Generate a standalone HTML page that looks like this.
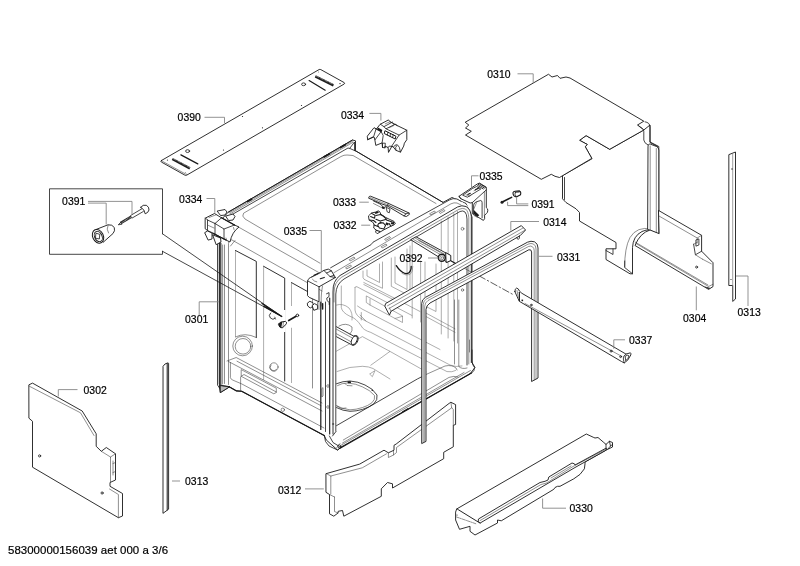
<!DOCTYPE html>
<html><head><meta charset="utf-8">
<style>
html,body{margin:0;padding:0;background:#fff;}
svg{display:block;will-change:transform;filter:grayscale(1);font-family:"Liberation Sans",sans-serif;}
.p{fill:#fff;stroke:#181818;stroke-width:0.9;stroke-linejoin:round;stroke-linecap:round;}
.l{fill:none;stroke:#181818;stroke-width:0.8;stroke-linejoin:round;stroke-linecap:round;}
.t{fill:none;stroke:#333;stroke-width:0.55;stroke-linejoin:round;stroke-linecap:round;}
.w{fill:none;stroke:#6a6a6a;stroke-width:0.55;stroke-linejoin:round;stroke-linecap:round;}
.g{fill:none;stroke:#808080;stroke-width:0.85;}
.k{fill:#1c1c1c;stroke:none;}
text{font-size:10.4px;fill:#000;stroke:#000;stroke-width:0.2;letter-spacing:0.04px;}
</style></head><body>
<svg width="800" height="566" viewBox="0 0 800 566">
<rect width="800" height="566" fill="#fff"/>
<!-- 10_strip0390.svg -->
<g>
<path class="p" d="M161.3 160.6L319 69.6Q319.9 69.1 320.8 69.6L344.2 82.6Q345 83.3 344.2 84L186.8 175.1Q185.8 175.7 184.8 175.1L161.3 162Q160.4 161.3 161.3 160.6Z"/>
<path class="t" d="M162.5 161.3L185.5 174L187 174.3"/>
<g stroke="#1c1c1c" stroke-width="2.4" fill="none">
<path d="M315.3 76.4L333.5 85.4"/>
<path d="M172.3 159L189.9 168.4"/>
</g>
<g stroke="#fff" stroke-width="1" stroke-dasharray="0.45 1" fill="none"><path d="M316 76L334 84.9M173 158.6L190.5 168"/></g>
<path class="l" style="stroke-width:1.2" d="M309.1 80.6L325.2 90.2"/>
<path class="l" style="stroke-width:1.2" d="M180.9 154.9L197.8 163.9"/>
<ellipse class="l" cx="303.6" cy="84.3" rx="2" ry="1.4"/>
<ellipse class="l" cx="187.6" cy="151.1" rx="2" ry="1.4"/>
<circle class="k" cx="242.5" cy="116.5" r="0.6"/>
<circle class="k" cx="301.5" cy="105.5" r="0.6"/>
<circle class="k" cx="262.5" cy="127.8" r="0.6"/>
<circle class="k" cx="223.5" cy="150" r="0.6"/>
<circle class="k" cx="167.4" cy="160.1" r="0.55"/>
<circle class="k" cx="340" cy="83.6" r="0.7"/>
<circle class="k" cx="318.5" cy="72" r="0.4"/>
<circle class="k" cx="185.2" cy="172.5" r="0.4"/>
</g>

<!-- 12_p0310.svg -->
<g>
<!-- 0304 back sheet -->
<path class="p" d="M562.5 176V198.8L566 202.5L576 208.8L579.5 212.5V221L616 242.5V248.8H606V259.5L630 273.8H632.5V247.5Q633 236 642 231.5Q646 229.5 650 230L658.8 233.5V146.5L650 142V125L643.8 130L609.7 149.3L586.1 135.6L579.6 140.3L587.2 144.4L585.3 146.8L591.8 158.4Z"/>
<path class="l" d="M564.5 177.5V199.5"/>
<path class="l" d="M606 250.5L613 254.5V249"/>
<!-- arch outer -->
<path class="t" d="M624.7 267Q624.5 248 630 237.5Q637 226 651 229"/>
<path class="l" d="M624.7 261V267.5L632.5 273.8"/>
<!-- column -->
<path class="p" d="M648 146.5Q648 143.5 650.5 144.2L656.5 146.5Q658.8 147.5 658.8 150V234L648 229.5Z"/>
<path class="t" d="M650.2 146V230.3"/>
<path class="t" d="M656.3 148.5V232.5"/>
<path class="l" d="M637.5 125L642.5 128.5Q643.8 129.5 643.8 131.5V140Q644 143 648 145"/>
<path class="l" d="M645 121.8Q650 122.5 650 127V142.5L657.5 146.5"/>
<!-- rail -->
<path class="p" d="M658.8 210.6L701.6 235.3V251.2L713 262.7V286.6L708.6 289.4L635 245.5Q640 233 650 230L658.8 233.5Z"/>
<path class="t" d="M658.8 215.9L697.2 238L701.6 235.3"/>
<path class="t" d="M697.2 238V243"/>
<path class="l" d="M693.6 244.2L695.4 254.8L701.6 251.2"/>
<path class="t" d="M693.6 244.2L697 242.5"/>
<path class="l" d="M696.3 239.8L698.9 238.9V245L696.3 246Z"/>
<path class="t" d="M702.5 259.2L711.3 263.8M695.4 254.8L702.5 259.2"/>
<path class="t" d="M636 243.5L708.5 286.5L713 284.3"/>
<path class="t" d="M635 242L708 285"/>
<path class="k" d="M704 286.2L708.6 289L710.5 288Z"/>
<circle class="l" cx="696.6" cy="267.1" r="1"/>
<!-- 0310 top sheet -->
<path class="p" d="M548.8 74.5L552 77L557.5 75.5L560 78.3L566 77L570 78L643.8 121.2L637.5 125L643.8 130L609.7 149.3L586.1 135.6L579.6 140.3L587.2 144.4L585.3 146.8L591.8 158.4L559.5 177.5L555 176.3L551.3 174.3L541.3 179.3L465.5 135L471.3 131.3L465.5 128L468.8 125L465.5 122.5Z"/>
</g>

<!-- 14_strips0313.svg -->
<g>
<path class="p" d="M729.2 154.5L735.5 152V299L732.7 301.4V285.5H729.2Z"/>
<path d="M732.7 154V301" stroke="#777" stroke-width="0.7" fill="none"/>
<circle class="k" cx="732" cy="169" r="0.7"/>
<circle class="k" cx="731" cy="279.5" r="0.6"/>
<path class="p" d="M163.3 366L165 364L168 362.8L168.6 363.3V509.2L163.3 513.1Z"/>
<path class="l" style="stroke-width:1" d="M167.2 363.5V510"/>
</g>

<!-- 16_p0302.svg -->
<g>
<path class="p" d="M29.2 384.7L32.5 383.1L82.2 411L96.2 433.8V446.3L101.3 451.3L106.3 447.5L115.5 453.8V480L110 482.5V486.3L122.5 493.5V516L118.4 517.7L32.5 467.2V421.3L29.2 418.4Z"/>
<path class="t" d="M29.5 386.3L80.5 412.8L94 435.5"/>
<path class="t" d="M101.3 451.3L110.5 457V482"/>
<path class="t" d="M110.5 457L115.5 453.8"/>
<path class="t" d="M118.4 517.7V494.5L109.5 489"/>
<path class="t" d="M113 461V475M115.5 462.5L113 463.5M115.5 471.5L113 472.5"/>
<circle class="l" cx="39.6" cy="455.9" r="1.1"/>
<circle class="l" cx="102.1" cy="493" r="1.1"/>
</g>

<!-- 18_p0312.svg -->
<g>
<path class="p" d="M326.3 473.6L359.7 464.1L384 450.2L388.4 452.8L394 450.2V445.3L396.2 444L449.1 403.4L450.9 402.3L455.6 404.6V424.5L453.3 425.3V446.8L443.7 452.3V458.7L392.5 488V483.8L387.5 482.5L381.3 488.8V496.3L343.8 516.2L342.5 510.5L338.2 511.3L338 513L333.8 516.2L329.5 513.8V494.5L326.3 492.5Z"/>
<path class="t" d="M330.8 494V476L362.3 467.8L386.5 453.8"/>
<path class="t" d="M326.3 473.6L330.8 476"/>
<path class="t" d="M334.5 497V511.5L338 513"/>
<path class="t" d="M329.5 494.5L334.5 497"/>
<path class="t" d="M388.4 452.8V457.5L393.5 455V450.5"/>
<path class="t" d="M393.5 455L396.5 452.5V447.5L451.7 407.8L453.3 409.4V425.3"/>
<path class="t" d="M450.9 402.3L451.7 407.8"/>
</g>

<!-- 20_p0330.svg -->
<g>
<path class="p" d="M457 508.8L586.3 434L593.8 437.5L595 438L598 437.5L603.8 442.5L606 444.4L609.4 441.3L612.5 442.5V447L607.5 449.4L585 462V463.8L584.4 468.8L580 474.4L573.8 478.8L560 486.3H557.5L555 487.5L553.8 489.3L501.3 520.8L497.5 520V523L475 535L470 531.3V526.3L459.5 529.3L455.6 520V512.5Z"/>
<path class="l" style="stroke-width:0.95" d="M457 508.8L458.8 510L480 523.1"/>
<path class="t" style="stroke-dasharray:3 1 0.8 1" d="M456.5 517L476 523.8"/>
<circle class="k" cx="457" cy="515" r="0.6"/>
<!-- rail -->
<path class="p" d="M478.8 518.8L540 482.5L545 481.3L548 480L548.8 477L572 463L574.4 463.8L575 465L606.3 448V450L575 467.5L480 523.1L478.5 521.5Z"/>
<path class="t" d="M480 520.6L541 484.5L546 483.2L549 481.5L573 466.5L606.3 449"/>
<path class="t" d="M551 478L571 466"/>
<path class="l" d="M606 444.4V448M609.4 441.3L610.5 446L607.5 449.4M610.5 446L612.5 444.5"/>
</g>

<!-- 30_tub.svg -->
<g>
<!-- top face -->
<path class="p" d="M228.5 212L352.5 140L355.5 140.8V150.8L443 202.4L452 197.5L466 203.5L472 217V362.5L475 367.5L470 373.8L342.5 446.3L337.5 450L326.3 440L324.3 435.6L241.7 391.3L236.5 390.9L229.5 386.9L220.3 392.6L219.5 388V222Z"/>
<!-- rail lines top-left -->
<path class="l" d="M228.5 212L352.5 140"/>
<path class="t" d="M229.3 212.9L352.5 141.2"/>
<path class="t" d="M230.3 213.8L353 142.3"/>
<path class="l" d="M231.5 214.9L348 148L350 148.5L355.5 151"/>
<path class="l" d="M350 148L354.5 142V150.5"/>
<g stroke="#1c1c1c" stroke-width="1.8" fill="none"><path d="M247 201.8L252 198.9M323.5 157.3L330 153.5M340 147.8L346 144.3"/></g>
<!-- top emboss rounded rect -->
<path class="t" d="M320 263.2L245 219Q241.3 216 243.6 213.2L341 156.5Q344 154.8 347 155L353 155.5L436 203.5"/>
<path class="t" d="M237.5 226.5L327 277.2"/>
<!-- top right back edge -->
<path class="l" d="M355.6 150.8L443 202.4"/>
<!-- left face: rear vertical bundle -->
<path class="l" d="M217.5 232V385L219.5 388"/>
<path class="t" d="M219 240V384"/>
<path class="l" d="M220.8 243V384.5" style="stroke-width:1.1"/>
<path class="t" d="M222.6 245V384"/>
<path class="t" d="M224.5 245V383.5"/>
<!-- left face panel outline -->
<path class="t" d="M228.5 384.5V243.5Q228.7 238.3 232 240L322 291"/>
<path class="t" d="M230.5 246L235 240.5"/>
<!-- embossed rects -->
<path d="M235.5 337V250.5" stroke="#999" stroke-width="0.8" fill="none"/>
<path class="l" style="stroke-width:0.9" d="M235.5 250.5L256.3 261.4V337.5"/>
<path d="M263.6 380V266.3" stroke="#999" stroke-width="0.8" fill="none"/>
<path class="l" style="stroke-width:0.9" d="M263.6 266.3L284.7 278.1V381"/>
<path d="M291.5 383V282.6" stroke="#999" stroke-width="0.8" fill="none"/>
<path class="l" style="stroke-width:0.9" d="M291.5 282.6L312.5 294.3"/>
<path class="t" d="M312.5 294.3V388"/>
<path class="t" d="M235.5 337Q245 332 256.3 337.5"/>
<circle class="t" cx="242.6" cy="346" r="9.8"/>
<circle class="t" cx="243" cy="346.3" r="7.8"/>
<path class="l" d="M270.6 313A3.2 3.2 0 0 0 275.4 318.2"/>
<path class="t" d="M274.5 317L275.6 319.3"/>
<circle class="t" cx="273.9" cy="367" r="4.2"/>
<path class="t" d="M271 365A3.4 3.4 0 0 0 276.5 369.5"/>
<!-- lower band of left face -->
<path class="t" d="M227 361L236.2 357.5L322 403"/>
<path class="t" d="M237 361.2L321 405.7"/>
<path class="t" d="M228.5 361.5L322 411"/>
<path class="t" d="M230.4 362.6V377.7Q231 379.5 233 380.2L241.7 383.9L324 428"/>
<path class="t" d="M241.2 370V376.3L273.8 393.8L276.3 392.5V388.6Z"/>
<path class="t" d="M241.2 376.3L244 374.5L276.3 392"/>
<path class="t" d="M240.6 377V390.5"/>
<circle class="t" cx="282.8" cy="409.8" r="1.7"/>
<path class="l" style="stroke-width:1.15" d="M229.5 386.9L236.5 390.9L241.7 391.3L324.3 435.6"/>
<path class="p" style="fill:#bbb" d="M220.3 385.6V392.6L229.5 386.9Z"/>
<path class="l" d="M220.3 385.6L229.5 386.9"/>
</g>

<!-- 32_interior.svg -->
<g>
<!-- right interior wall verticals -->
<path class="w" d="M412.2 240V318"/>
<path class="w" d="M420.6 261V322"/>
<path class="w" d="M441.3 221V334"/>
<path class="w" d="M448.1 217V338"/>
<path class="w" d="M453.8 213.5V341"/>
<path class="w" d="M457.5 211.5V343"/>
<!-- embossed panels on right wall -->
<path class="w" d="M363 271V277.5Q363.5 279.5 366 280.3L382.5 288.3V262"/>
<path class="w" d="M367 270V276L379.5 282.5V264"/>
<path class="w" d="M391.3 258V286.3L410 296V246"/>
<path class="w" d="M395 257V283L407 289.5V249"/>
<path class="w" d="M425 262V306L436 311.5V264"/>
<!-- oblique bands -->
<path class="w" d="M355 287.5Q355.5 286 357 286.8L412 315.5"/>
<path class="w" d="M363.8 282.5L395 298.5M363.8 284.5L395 300.5"/>
<!-- horizontal slot -->
<path class="w" d="M366.3 296.3V302.5L370 305L402.5 322.5V316.3Z"/>
<path class="w" d="M370 305V299M395 318.5L402.5 316.3"/>
<path class="w" d="M361.3 312.5V320"/>
<path class="w" d="M425 312.5L455 328.8"/>
<path class="w" d="M425 316L455 332.3"/>
<path class="w" d="M398 300L420 311.5"/>
<!-- wall/floor transitions -->
<path class="w" d="M355 287.5V310Q355.5 316 363.8 320L450 365Q456 367.5 462 366"/>
<path class="w" d="M341.3 286V307.5Q342 312.5 350 316.3Q356 318 361.3 326Q363 330 370.8 332.4L447 371.6Q452 372.5 455.6 370.5"/>
<path class="w" d="M357.5 306L362 309L440 349.5"/>
<path class="w" d="M360 315L366 321"/>
<path class="w" d="M336 351.4L362.4 336.6L390 351.4L370.8 365.2"/>
<path class="w" d="M390 351.4L426 371.6"/>
<path class="w" d="M337 371.5Q350 366 362.5 366.3Q369 366.5 373 368.5L390 379"/>
<path class="w" d="M370 373.8L375 370.6L372.5 376.3Z"/>
<path class="w" d="M336.5 305Q343 303 349 308Q353 313 352 320"/>
<!-- sump ellipse -->
<path class="l" d="M336.2 383.8Q343 381 350 381Q358 381.5 365 385Q373 388.5 377 395Q378 400 373.8 403.8Q369 407.5 362.5 409.4Q356 411.3 350 411.3Q343 411 336.2 407.5"/>
<path class="t" d="M337.5 385.6Q342 383 347.5 383Q356 383.5 362.5 386.9Q370 390 374.5 395.5Q375.5 399.5 371.9 402.8Q368 405.8 362.5 407.5Q356 409.7 350 409.8Q343 409.3 336.2 405.6"/>
<path class="k" d="M347.5 381.3L350.8 381.2L351 383L347.8 383.2Z"/>
<circle class="k" cx="372.3" cy="390.2" r="0.8"/>
<path class="t" d="M345 383.5L347 385.5L352 385.8"/>
<path class="t" d="M337 406L341 408.5L346 408"/>
<!-- floor front lines -->
<path class="l" d="M335 426.5L417.5 378.9L421.7 376.8"/>
<path class="t" d="M426 374.5L445 366Q452 364.5 456 368L457 370"/>
<path class="t" d="M343.3 440L421.7 393.5M426 391L449 377.4Q454 375.5 458 377"/>
<!-- lower tube -->
<path class="p" d="M336 326.5L353.5 336Q358 334.5 358.2 338Q358 344 353 345.5L336 336.5Z"/>
<path class="t" d="M336 329L352 337.8M336 333.5L351.5 342"/>
<ellipse class="l" cx="354.3" cy="340.3" rx="2.6" ry="4.6" transform="rotate(22 354.3 340.3)"/>
<path class="t" d="M339 326Q346 322 352 327Q353 331 350 334"/>
<!-- hook -->
<path class="l" style="stroke-width:1.3" d="M396.3 265.6Q400 271.5 405 273.5Q409 274 410.3 271Q411.3 269 411.2 266.3"/>
<path class="w" d="M412.8 266.5Q413 272 410 274.5Q406 276 402 273.5"/>
</g>

<!-- 34_frame.svg -->
<g>
<!-- frame band fill (top rail) -->
<path class="p" d="M330.6 267.8L449.4 200Q453 197.8 457 199L463 202.5Q470 206 471.3 216.3V362.5L467.5 364V219Q467 211 462 209.5Q459 208.8 456 210.3L346.3 271.5Q337 277 336.2 290V432L332.3 436.5V290Q332 278 335.6 274Z" style="stroke:none"/>
<!-- top rail lines -->
<path class="l" d="M330.6 267.8L371 244.7L373 242.2L449.4 200Q453 197.8 457 199L461 201.3"/>
<path class="t" d="M333.8 272.8L451 203.8Q454 202.3 457 203L461 205"/>
<path class="l" style="stroke-width:0.9" d="M333 434V292Q332.6 281 340 275.5L457.5 207Q462 204.8 466 206.5Q470.6 209 471.3 216.3V362.5"/>
<path class="t" d="M334 302V292.5Q334 282.5 341.5 277.3L458.8 209.4Q462.5 207.6 465.5 209Q468.3 211 468.8 217.5V364"/>
<path class="l" d="M335.8 431V294Q336.1 284 344 279L460 211.5Q463 210.2 465 212Q466.8 214 467 219V365"/>
<!-- slots on top rail -->
<path class="t" d="M349.5 259.5L354 257L355 258.3L350.5 260.8ZM346 267.5L350.5 265L351.5 266.3L347 268.8Z"/>
<path class="t" d="M385 239L389.5 236.5L390.5 237.8L386 240.3ZM381.5 246.5L386 244L387 245.3L382.5 247.8Z"/>
<path class="t" d="M430 213.5L434.5 211L435.5 212.3L431 214.8ZM439.5 212L444 209.5L445 210.8L440.5 213.3Z"/>
<!-- left vertical front strip of side face -->
<path class="l" style="stroke-width:1.2" d="M320.8 302V429.5"/>
<path class="l" d="M325.5 302V431.5"/>
<path class="l" style="stroke-width:1.1" d="M329.7 298V434"/>
<path class="t" d="M323 388V396L321.8 397V389Z"/>
<path class="l" style="stroke-width:1.5" d="M322.6 303.8V309"/>
<!-- bottom-left corner -->
<path class="l" d="M324.3 435.6L325.5 441.5L329 446L337.5 450L342.5 446.3"/>
<path class="l" d="M329.4 436L333 442.5L339.5 446.5"/>
<path class="l" d="M336 431.5L332.5 436"/>
<circle class="l" cx="339.3" cy="446.3" r="1.5"/>
<path class="t" d="M336.5 448L340 443.5"/>
<!-- bottom front edge -->
<path class="l" style="stroke-width:1.2" d="M340.5 448L471.5 373"/>
<path class="t" d="M341 445.3L470.5 370.5"/>
<path class="t" d="M342.5 443L464 372.5"/>
<path class="k" d="M402 411.5L408 408L408.5 409L402.5 412.5Z"/>
<!-- bottom-right corner -->
<path class="l" d="M472 350V361Q472.3 365 474.5 367.5Q475 370.5 471.5 373.3"/>
<path class="t" d="M458.8 300V366.5Q462 369.5 467 368"/>
<path class="t" d="M454.5 300V364"/>
<circle class="t" cx="462.5" cy="228.8" r="1.4"/>
<circle class="t" cx="462.5" cy="290" r="1.2"/>
<path class="t" d="M469.5 340V352"/>
<!-- hinge bits on left frame -->
<path class="l" d="M326.5 293.8L329 292.6V296.5L326.8 298L327 300.5L329.2 302.5V304.5"/>
<circle class="t" cx="328" cy="386" r="1.3"/>
<circle class="t" cx="328" cy="407" r="1.3"/>
<circle class="t" cx="333" cy="424" r="0.7"/>
</g>

<!-- 40_rails.svg -->
<g>
<!-- 0392 slide -->
<path class="p" d="M411 239.5L416 236.8L450.5 255.5V260.5L447.5 262Z"/>
<path class="t" d="M413.5 239.5L444 256.5M415 238L446 255"/>
<path class="t" d="M419 240.5L440 252" style="stroke-width:1.2;stroke:#777"/>
<path class="p" d="M446 252.8L450.8 255.5V260.5L446.5 262.5Z"/>
<path class="l" style="stroke-width:1.2" d="M450.8 260.8L456 263.8"/>
<circle class="p" style="stroke-width:1.4" cx="441.8" cy="257.8" r="3.5"/>
<circle class="t" cx="441.8" cy="257.8" r="2"/>
<circle class="k" cx="441.8" cy="257.8" r="0.6"/>
<!-- dash-dot axis -->
<path class="t" d="M456 263.5L471 272" />
<path class="l" style="stroke-dasharray:7 2.5 1.5 2.5;stroke-width:0.7" d="M479 275.8L513 294.5"/>
<!-- 0314 bar -->
<path class="p" d="M386 303.3L521.3 225.6L525.6 230L520.3 235.5L391 311.3L389.5 315L387.8 312L385 306.5Z"/>
<path class="t" d="M387.5 305.8L523 228"/>
<path class="t" d="M389 308.5L524.5 230.5"/>
<path class="t" d="M391 311.3L389.5 308"/>
<path class="l" d="M516.8 237.5Q517 239.5 518.5 239.3Q519.8 238.8 519.5 236"/>
<!-- 0331 seal -->
<path class="p" d="M421.7 443.2V303.5Q421.8 299.5 425.5 297.3L527.5 242.2Q531 240.5 534.5 241.8Q538 243.5 538 248V378L531.6 381.5V252Q531.3 249 528.8 249.8L430 303Q426.2 305.5 426 309.5V441Z"/>
<path class="t" d="M423.2 442.3V304.5Q423.3 300.8 426.5 299L528 244.2Q531 242.8 533.5 244Q536 245.5 536 249V379"/>
<path class="t" d="M424.7 441.5V306.5Q424.8 302.5 428 300.5L528.5 246.5Q531 245.5 532.5 246.8Q534.2 248.2 534.2 250.5V380"/>
<!-- 0337 -->
<path class="p" d="M514.9 291.6Q514.8 288.5 516.6 288.1Q518.5 288.3 519.4 291L521.9 293.3L626 354.1L630.4 352.8Q631.3 353.5 630.8 355L627.7 360.2L624.2 362.9L621.5 361.5L519.3 301.3Q517 296.5 514.9 291.6Z"/>
<path class="l" style="stroke-width:1.1" d="M519.4 292.3V300.8"/>
<path class="t" d="M517 290.5L518.3 297.5"/>
<path class="t" d="M525 303.5L622 356.5"/>
<path class="l" d="M626 354.1Q623 355.5 623.3 359L624.2 362.9"/>
<path class="l" d="M625.5 356Q627.5 354.5 629 355.8Q628.5 358.5 626 360.5Z"/>
<rect class="k" x="521.5" y="299.6" width="1.6" height="1.6"/>
<circle class="l" cx="531.3" cy="305" r="0.8"/>
<circle class="l" cx="611.1" cy="351.1" r="1"/>
<circle class="l" cx="620.6" cy="356.7" r="0.9"/>
</g>

<!-- 42_small.svg -->
<g>
<!-- 0334 left bracket -->
<path class="p" d="M217.5 211L225 209.5L227 212L225 215L221 215.5Z"/>
<path class="p" d="M226 216L233 214L235 216.5L233 220L229 220.5Z"/>
<path class="p" d="M205 232.5L207.5 231L212 233V239L208.5 240Z"/>
<path class="p" d="M213 235L220.5 238L221 242L216.5 244.5Z"/>
<path class="p" d="M205.5 218L214.5 213.5L221.5 217.8L234.5 225L239 227Q232 232 230 242L224 239L215 234L207.5 230.5L205.5 229Z"/>
<path class="l" d="M205.5 218L207.5 220L215 223.5L221.5 217.8"/>
<path class="l" d="M215 223.5V234M207.5 220V230.5"/>
<path class="l" d="M215 223.5L224 229V239M224 229L234.5 225"/>
<path class="l" style="stroke-width:1.3" d="M221.5 217.8L234.5 225M213 233.5L226 240"/>
<path class="t" d="M209 217.5L216 214.8M208.5 225.5L214 228"/>
<path class="t" d="M233.5 227.5L234 229.5M226 238L226.5 240"/>
<!-- 0335 left bracket -->
<path class="p" d="M308.4 279.3Q309 278 310.5 277.5L320.8 272.2L323.9 270.4L328.3 269.1L331.4 270.8L334 275.3L335.4 277.5L319 286.8V301.8L309.3 297.4L307.5 295.6V281.5Z"/>
<path class="l" d="M307.8 281L319 286.8"/>
<path class="l" d="M323.9 270.4L326.5 273.1L330.1 276.6L334 275.3M326.5 273.1L331.4 270.8M330.1 276.6L335.4 277.5"/>
<path class="l" style="stroke-width:1.1" d="M314 275.2L318 273.5M320.3 278.8L324.3 277.4"/>
<path class="t" d="M312.4 279.3Q314 281.5 316.8 281.9M311 277.5L320.5 272.8"/>
<path class="t" d="M322.5 286Q321.3 292 321.2 298V306"/>
<path class="p" d="M307.6 303L309.8 301.3L312.9 302.7L313.3 306.2L310.2 308L308 306.2Z"/>
<path class="p" d="M312.4 305.4L314.6 303.6L317.7 305.4V308.9L314.2 310.2Z"/>
<path class="t" d="M317.5 302.5V309M319 302V309.5"/>
<!-- 0335 right bracket -->
<path class="p" d="M459.2 196.2L477.4 183.9L479.5 183.1L486.3 187.2V207.7Q488 208.5 487.8 210.8Q487.5 213 486.3 213.6L484.6 215.3V218.7L483.4 220.4L472.3 213.6V202.6L470.2 203L461 198.8Z"/>
<path class="l" d="M472.3 202.6L486.3 189.9M461 198.8L459.2 196.2"/>
<path class="l" d="M463 195L472.3 188.6L476.6 186.5L480.8 189L471 195L467.7 197Z"/>
<path class="t" d="M466 194.8L470 196.3L471 195M474 190.8L478.5 188.5"/>
<path class="l" style="stroke-width:1.1" d="M475.3 189.8L479 187.8M467.8 194.5L470.3 193.2"/>
<g stroke="#222" stroke-width="0.9" fill="none"><path d="M478 184.2L484.8 188.3M479.3 183.5L486 187.6M477.2 185.2L483.6 189.2"/></g>
<path class="l" d="M473.6 213.6V205.1Q474 202.5 476.6 201.7L480.8 200.5Q482.1 200.8 482.1 202.6V217.8"/>
<path class="t" d="M484.4 191.5V215.5M476.8 202L474 208.5"/>
<path class="k" d="M473.6 209.8L479.3 215.3L477.4 216.8L473.6 213.8Z"/>
<path class="t" d="M474 215.5L477.5 217.5"/>
<!-- 0334 top bracket -->
<path class="p" d="M380.4 124.2L388.5 119.9L389.9 121.7L397.3 125.6L406.8 130.2V139.7L404.4 143.2L403.7 146.1L400.5 152.1L395.9 150.3L393.4 147.1L392 146.1L388.5 152.4L388.1 147.5L385 146.1V147.8L382.5 147.5L382.1 142.9L375.8 145.4L374.7 139L374 136.9L367.6 139.7L367.3 136.2L374 127.7L376.1 128.8Z"/>
<path class="l" d="M380.4 124.2L383.9 126.7L392.4 122.1M383.9 126.7L386 128.8L395.2 124.2L397.3 125.6"/>
<path class="t" d="M385.3 123.8L390.2 121.7L393.8 123.5V125.6L389.2 127.7"/>
<path class="l" d="M386 128.8L399.1 135.1L406.8 130.2M399.1 135.1L391.7 146.1"/>
<path class="l" style="stroke-width:1" d="M385.3 130.9L395.9 136.2L395.2 139L384.6 133.7Z"/>
<path class="l" d="M388 132.2L387.4 135M390.6 133.5L390 136.3M393.2 134.8L392.6 137.6"/>
<path class="l" d="M376.1 128.8L373.7 136.5L367.6 139.7M376.1 129.1L381.1 131.6L375.1 139.7M381.1 131.6L383.2 135.5L382.1 142.9"/>
<path class="k" d="M377.9 127.6L382.4 130L381.4 132.2L377 129.7Z"/>
<path class="l" d="M382.5 147.5V143.2H385.3L385 147.8M388.1 147.5L389.2 146.1L392 146.4"/>
<path class="l" d="M393.4 147.1Q394.5 144.5 397.3 144.7Q399.8 146 400.5 152.1M395.9 150.3Q394.8 147 396.6 145.7"/>
<!-- 0333 -->
<path class="p" d="M368.8 197.2Q369 196 370.5 196.2L388.3 203.3L409 213L409.5 214.3L406.4 216.5L404.2 216L386.5 205.5L382 204L368.9 198.3Z"/>
<path class="l" d="M388.3 203.3L387.2 206M404.2 216L405.8 213.8L409 213M405.8 213.8L388 205"/>
<path class="t" d="M370 197.6L386.5 204.3"/>
<path class="l" d="M373.5 201L380 204L384 207.5L386.5 206.3"/>
<path class="t" d="M373.5 203.5L382 207.8"/>
<path class="k" d="M381.8 206.3L384.8 207.6L384.5 209.3L382 208.5Z"/>
<path class="l" d="M386.5 207.5L390 209L389.3 212.8L387.5 212Z"/>
<!-- 0332 -->
<path class="p" d="M368.8 215.6L371.5 213L375.5 212.1L378.6 210.8L379.9 212.1L380.8 214.3L385.6 217.4L389.2 219.2L394 221.4L395.3 223.6L394 224.9L390.9 226.2L383.9 229.8L377.2 233.7L375.5 232L376.3 230.2L373.7 228L374.1 224.9L373.3 222.7L369.3 220Z"/>
<g fill="none" stroke="#1c1c1c" stroke-width="1.05" stroke-linejoin="round" stroke-linecap="round">
<path d="M371.5 213.4L375 215.2L374.6 218.3L370.6 216.5"/>
<path d="M375.9 215.6L380.5 214.5L383.5 216.3L386.5 219.2L380.3 220.9L375.9 219.2"/>
<path d="M378.6 223.6L383 222.7L385.6 225.3L383.9 228.9L379.4 228L377.7 225.3Z"/>
<path d="M386.5 220L393.6 222.6M389.2 223.6L390.9 226.2"/>
<path d="M374.1 224.9L378 226.5M376.3 230.2L380 231.5"/>
<path d="M369.3 220L373.5 220.5L376 222.5"/>
</g>
<path class="k" d="M374.5 212.5L378.3 211.2L378.8 212.8L375.5 214Z"/>
<path class="k" d="M386.2 222.2L389 223.4L388 225.4L385.4 224.6Z"/>
<path class="k" d="M391 222.3L394.5 223.3L393.5 224.8L390.8 224Z"/>
<path class="k" d="M380.3 221.5L382.5 222.5L378.8 223.5Z"/>
<!-- screw + cap near 0391 right -->
<path class="l" style="stroke-width:1.6" d="M502.3 202L511.6 197.4"/>
<circle class="k" cx="502" cy="202.3" r="1.5"/>
<path class="p" style="stroke-width:1.1" d="M513 192.6Q513.5 191.3 515 191.2L519.5 190.9Q520.8 191.5 520.8 193L520.5 194.8L516.8 196.8Q515 197 513.8 195.6Q512.8 194.2 513 192.6Z"/>
<path class="l" d="M515.3 192.3Q514 194.3 516 196.3M515.3 192.3L519.3 192"/>
<!-- screw on left face -->
<path d="M284.7 310V332M291.5 306V327.8" stroke="#fff" stroke-width="2" fill="none"/>
<path class="l" style="stroke-width:1.7" d="M288.7 320.5L296.5 316"/>
<circle class="p" cx="297.4" cy="315.4" r="1.3"/>
<path class="p" style="stroke-width:1" d="M278.8 324L280.6 322.1L285.5 321.4Q286.8 322 286.5 323.3L285.5 324.8L282.5 327.8L280.3 327.5Q278.5 326.3 278.8 324Z"/>
<path class="k" d="M278.8 324L280.6 322.1L282.3 322L281.3 327.6L280.3 327.5Q278.5 326.3 278.8 324Z"/>
<path class="t" d="M283.5 321.8L282.8 327.3"/>
</g>

<!-- 50_box0391.svg -->
<g>
<path class="l" d="M162.5 233.8V188.8H49.5V254.3H162.5V251.3"/>
<path class="l" d="M162.5 233.8L281.8 316.5L162.5 251.3"/>
<path class="l" style="stroke-width:1.3" d="M262 303.5L281.8 316.5L264 306.5"/>
<!-- screw in box -->
<path class="l" d="M141.8 208.8L130.8 215.4M143.3 211.5L132.2 218"/>
<path d="M131.5 216.7L120.5 223.2" stroke="#222" stroke-width="2.7" fill="none"/>
<path d="M131.5 216.7L120.5 223.2" stroke="#fff" stroke-width="1.3" stroke-dasharray="0.45 0.9" fill="none"/>
<path class="l" d="M121 222L118.3 224.8L121.8 224.2"/>
<path class="p" style="stroke-width:0.9" d="M140.8 207.2Q143 204.3 146.3 205.3Q149.3 206.8 149 210Q148.3 212.8 145.2 213.8Q144.8 209.5 140.8 207.2Z"/>
<!-- cap in box -->
<path class="p" style="stroke-width:0.9" d="M96.5 229.3L108 224.8Q112.3 224.3 114.3 227.5Q115.3 231 113 233.5L103.5 242Z"/>
<ellipse class="p" style="stroke-width:1" cx="98" cy="236.3" rx="5.3" ry="7.2" transform="rotate(-25 98 236.3)"/>
<ellipse class="l" style="stroke-width:0.9" cx="98.3" cy="236.5" rx="3.7" ry="5.4" transform="rotate(-25 98.3 236.5)"/>
<path class="l" d="M96.3 233.3L99.8 234.3L99.3 239L95.8 238.2Z"/>
<path class="t" d="M108 225.5Q106 229 108.5 233"/>
</g>

<!-- 90_labels.svg -->
<g class="g">
<path d="M204.5 117.3H224.5V123"/>
<path d="M369.4 113.4H380.9V120.6"/>
<path d="M517.5 73.8H533.2V83"/>
<path d="M88 201.4H132V214"/>
<path d="M88 203.1H106.2V224.5"/>
<path d="M206.5 198.5H214.8V212.8"/>
<path d="M478.5 175.8H471.5V188.5"/>
<path d="M528.3 205.6H507.6V201.8"/>
<path d="M528.3 203.9H516.6V197.5"/>
<path d="M359.3 202.2H368.8"/>
<path d="M361.2 225.2H370.2"/>
<path d="M539 221.5H510.8V230.5"/>
<path d="M428 258H438.5"/>
<path d="M552.5 256.3H539"/>
<path d="M309.5 230.5H321.3V272"/>
<path d="M218.8 301.8H199.2V315"/>
<path d="M696.3 286.5V310.3"/>
<path d="M736 276H748V306"/>
<path d="M625 339.8H613.8V348.8"/>
<path d="M77.5 389.6H58.3V396.5"/>
<path d="M180 481H172"/>
<path d="M305 488.9H323.8"/>
<path d="M566 508.2H542.6V498.5"/>
</g>
<g>
<text x="177.6" y="121.3">0390</text>
<text x="340.9" y="118.6">0334</text>
<text x="487.3" y="78">0310</text>
<text x="62.1" y="204.6">0391</text>
<text x="179.1" y="203.1">0334</text>
<text x="479.4" y="180.1">0335</text>
<text x="531.4" y="208.0">0391</text>
<text x="332.9" y="205.6">0333</text>
<text x="333.4" y="229.2">0332</text>
<text x="543.2" y="225.5">0314</text>
<text x="283.8" y="235.3">0335</text>
<text x="399.4" y="261.8">0392</text>
<text x="557" y="261">0331</text>
<text x="185" y="323.1">0301</text>
<text x="683" y="322.3">0304</text>
<text x="737.5" y="316.3">0313</text>
<text x="629" y="344.3">0337</text>
<text x="83.5" y="393.9">0302</text>
<text x="185" y="485.3">0313</text>
<text x="278" y="494.3">0312</text>
<text x="569.5" y="512.3">0330</text>
<text x="8" y="554.3" style="font-size:11.45px">58300000156039 aet 000 a 3/6</text>
</g>

</svg>
</body></html>
